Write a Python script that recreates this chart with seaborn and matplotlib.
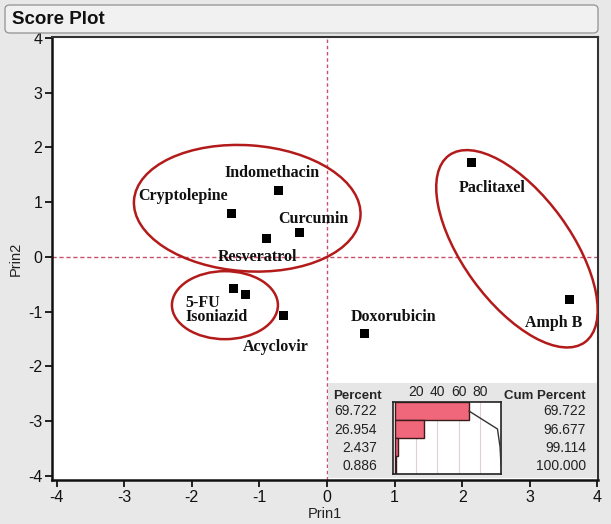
import numpy as np
import pandas as pd
import matplotlib
matplotlib.use("Agg")
import matplotlib.pyplot as plt
import matplotlib.transforms as mtransforms
from matplotlib.patches import Ellipse, FancyBboxPatch
import seaborn as sns

# score values
drugs = ["Paclitaxel", "Amph B", "Indomethacin", "Cryptolepine", "Curcumin",
         "Resveratrol", "5-FU", "Isoniazid", "Acyclovir", "Doxorubicin"]
prin1 = [2.14, 3.59, -0.71, -1.42, -0.41, -0.89, -1.38, -1.20, -0.65, 0.55]
prin2 = [1.72, -0.77, 1.22, 0.79, 0.44, 0.33, -0.58, -0.68, -1.06, -1.39]

# eigenvalue table
percent = [69.722, 26.954, 2.437, 0.886]
cum_percent = [69.722, 96.677, 99.114, 100.000]
bar_ticks = [20, 40, 60, 80]

scores = pd.DataFrame({"drug": drugs, "Prin1": prin1, "Prin2": prin2})

# label placement (pixel offsets from the point)
label_offsets = {
    "Paclitaxel": (20, -25, "center"),
    "Amph B": (-16, -24, "center"),
    "Indomethacin": (-7, 17, "center"),
    "Cryptolepine": (-48, 18, "center"),
    "Curcumin": (14, 14, "center"),
    "Resveratrol": (-9, -18, "center"),
    "5-FU": (-48, -14, "left"),
    "Isoniazid": (-60, -23, "left"),
    "Acyclovir": (-7, -32, "center"),
    "Doxorubicin": (29, 16, "center"),
}

# group outlines: centre (data), width/height in pixels, angle
groups = [
    ((-1.18, 0.89), 227, 126, -4),
    ((-1.51, -0.88), 106, 68, 0),
    ((2.81, 0.15), 231, 108, -54),
]

sns.set_style("white")
plt.rcParams["font.family"] = ["Liberation Sans", "DejaVu Sans"]
plt.rcParams["axes.unicode_minus"] = False

W, H = 611, 524
fig = plt.figure(figsize=(W / 100, H / 100), dpi=100)
fig.patch.set_facecolor("#e8e8e8")


def fx(px):
    return px / W


def fy(py):
    return 1 - py / H


# title bar
fig.patches.append(FancyBboxPatch((fx(5), fy(33)), fx(593), 28 / H,
                                  boxstyle="round,pad=0,rounding_size=0.008",
                                  transform=fig.transFigure, facecolor="#f1f1f1",
                                  edgecolor="#9a9a9a", linewidth=1))
fig.text(fx(12), fy(19), "Score Plot", fontsize=13.5, fontweight="bold",
         va="center", ha="left", color="#111111")

ax = fig.add_axes([fx(52), fy(480), 546 / W, 443 / H])
ax.set_facecolor("white")

ax.axvline(0, color="#c8506e", lw=1, ls=(0, (2.5, 2)), zorder=1)
ax.axhline(0, color="#c8506e", lw=1, ls=(0, (3, 2)), zorder=1)

sns.scatterplot(data=scores, x="Prin1", y="Prin2", marker="s", s=42,
                color="black", edgecolor="none", ax=ax, zorder=3)

for d, x, y in zip(drugs, prin1, prin2):
    dx, dy, ha = label_offsets[d]
    ax.annotate(d, (x, y), xytext=(dx, dy), textcoords="offset pixels",
                ha=ha, va="center", fontsize=11.5, fontweight="bold",
                family=["Liberation Serif", "DejaVu Serif"], color="#111111")

for (cx, cy), w, h, ang in groups:
    tr = fig.dpi_scale_trans + mtransforms.ScaledTranslation(cx, cy, ax.transData)
    ax.add_patch(Ellipse((0, 0), w / 100, h / 100, angle=ang, transform=tr,
                         fill=False, edgecolor="#b31b1b", linewidth=1.8, zorder=4))

ax.set_xlim(-4.068, 4.009)
ax.set_ylim(-4.073, 4.018)
ax.set_xticks(range(-4, 5))
ax.set_yticks(range(-4, 5))
ax.set_xlabel("Prin1", fontsize=10.5, color="#222222", labelpad=2)
ax.set_ylabel("Prin2", fontsize=10.5, color="#222222", labelpad=4)
ax.tick_params(direction="out", length=5, width=1.3, colors="#111111",
               labelsize=11.5, pad=2, bottom=True, left=True)
for side in ["left", "bottom"]:
    ax.spines[side].set_linewidth(1.8)
    ax.spines[side].set_color("#111111")
for side in ["top", "right"]:
    ax.spines[side].set_linewidth(1.5)
    ax.spines[side].set_color("#333333")

# eigenvalue inset
tab = fig.add_axes([fx(328), fy(478), (597 - 328) / W, (478 - 383) / H])
tab.set_facecolor("#e6e6e6")
tab.set_xticks([])
tab.set_yticks([])
for s in tab.spines.values():
    s.set_visible(False)

narrow = ["Liberation Sans Narrow", "Liberation Sans", "DejaVu Sans"]
row_y = [411, 430, 448, 466]
fig.text(fx(333), fy(396), "Percent", fontsize=9.5, fontweight="bold",
         family=narrow, ha="left", va="center")
fig.text(fx(586), fy(396), "Cum Percent", fontsize=9.5, fontweight="bold",
         family=narrow, ha="right", va="center")
for p, c, ry in zip(percent, cum_percent, row_y):
    fig.text(fx(377), fy(ry), f"{p:.3f}", fontsize=10, family=narrow,
             ha="right", va="center", color="#222222")
    fig.text(fx(586), fy(ry), f"{c:.3f}", fontsize=10, family=narrow,
             ha="right", va="center", color="#222222")

bar = fig.add_axes([fx(393), fy(474), (501 - 393) / W, (474 - 402) / H])
bar.set_facecolor("white")
rows = pd.DataFrame({"pct": percent, "row": [0, 1, 2, 3]})
for t in bar_ticks:
    bar.axvline(t, color="#e3cfd3", lw=0.8, zorder=0)
sns.barplot(data=rows, x="pct", y="row", orient="h", width=1, color="#f0667a",
            saturation=1, edgecolor="#3a1a1a", linewidth=1, ax=bar, zorder=2)
bar.plot(cum_percent, [0, 1, 2, 3], color="#333333", lw=1, zorder=3)
bar.set_xlim(-2, 100)
bar.set_ylim(3.5, -0.5)
bar.set_xlabel("")
bar.set_ylabel("")
bar.set_yticks([])
bar.xaxis.tick_top()
bar.set_xticks(bar_ticks)
bar.tick_params(axis="x", length=0, pad=2, labelsize=10, colors="#222222")
for lab in bar.get_xticklabels():
    lab.set_family(narrow)
for s in bar.spines.values():
    s.set_color("#222222")
    s.set_linewidth(1.2)

fig.savefig("out.png", dpi=100, facecolor=fig.get_facecolor())
